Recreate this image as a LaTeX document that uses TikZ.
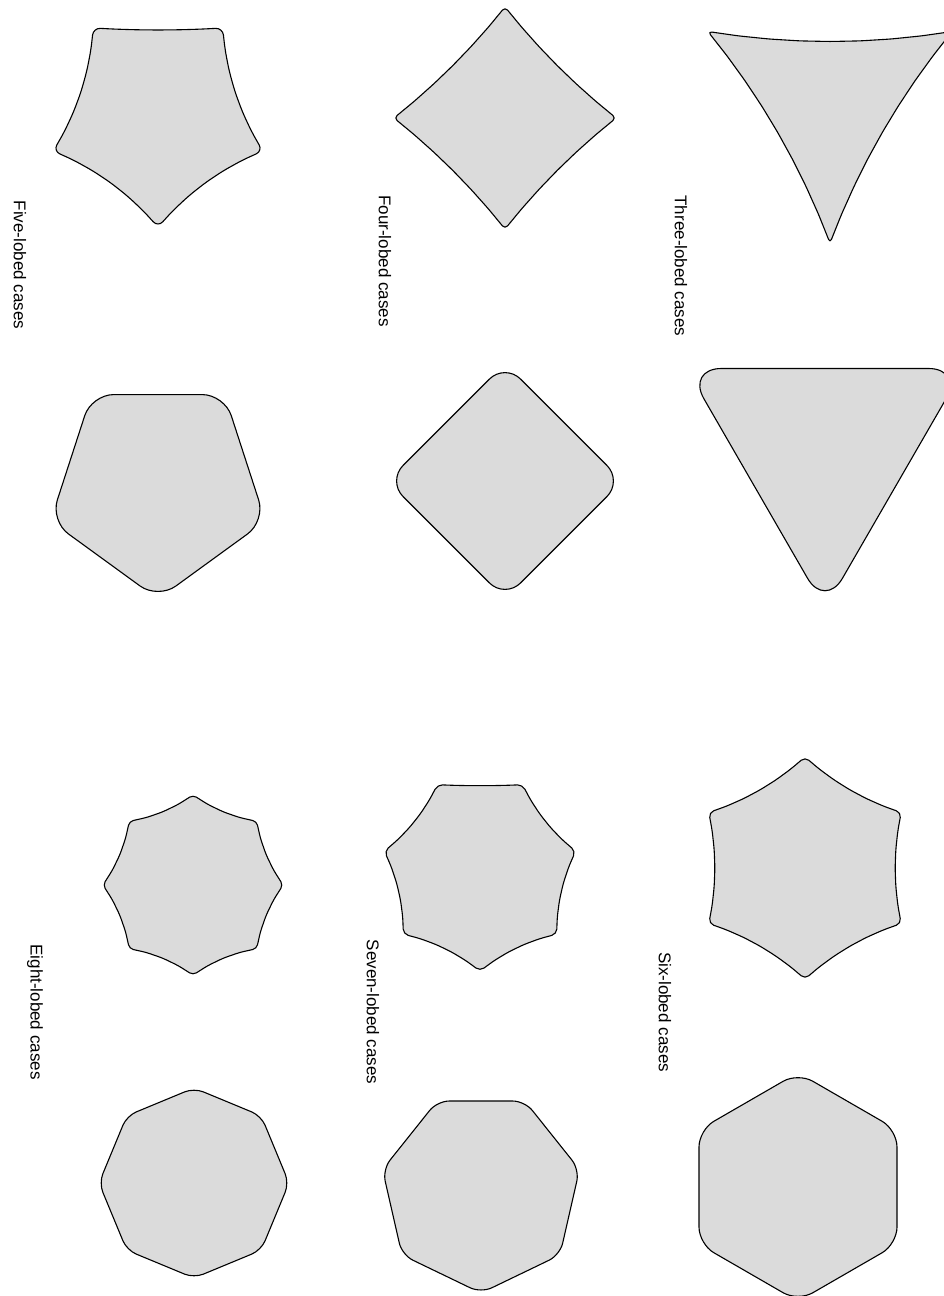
\documentclass[tikz,border=0pt]{standalone}
\usepackage{fontspec}
\setmainfont{Liberation Sans}
% #1 cx, #2 cy, #3 vertex radius, #4 lobes, #5 inward sag of a side,
% #6 angle of first vertex, #7 corner inset, #8 segments per side,
% #9 inward sag of the top side
\newcommand{\lobedpoly}[9]{%
  \def\Lcx{#1}\def\Lcy{#2}\def\LR{#3}\def\Ln{#4}\def\Lphi{#6}\def\Ls{#8}%
  \def\Lsag{#5}\def\Ltop{#9}%
  \pgfmathsetmacro\Lm{#3*cos(180/#4)}%
  \pgfmathtruncatemacro\Lti{(#4-1)/2}%
  \pgfmathtruncatemacro\Ltot{#4*#8-1}%
  \draw[lobe, rounded corners=#7pt] ({Lx(0)},{Ly(0)})
    \foreach \j in {1,...,\Ltot} { -- ({Lx(\j)},{Ly(\j)}) } -- cycle;
}
\begin{document}
\begin{tikzpicture}[x=1pt, y=-1pt,
  declare function={
    Li(\k)=floor((\k+0.5)/\Ls);
    Lt(\k)=(\k-\Ls*Li(\k))/\Ls;
    La(\k)=\Lphi+360*Li(\k)/\Ln;
    Lq(\k)=\Lm-2*(\Lsag+(\Ltop-\Lsag)*(Li(\k)==\Lti));
    Lx(\k)=\Lcx+(1-Lt(\k))^2*\LR*cos(La(\k))+2*Lt(\k)*(1-Lt(\k))*Lq(\k)*cos(La(\k)+180/\Ln)+Lt(\k)^2*\LR*cos(La(\k)+360/\Ln);
    Ly(\k)=\Lcy+(1-Lt(\k))^2*\LR*sin(La(\k))+2*Lt(\k)*(1-Lt(\k))*Lq(\k)*sin(La(\k)+180/\Ln)+Lt(\k)^2*\LR*sin(La(\k)+360/\Ln);
  },
  lobe/.style={draw=black, fill=black!14, line width=1.1pt, line join=round},
  lbl/.style={rotate=-90, font=\fontsize{17}{20}\selectfont, inner sep=0pt}]
\useasboundingbox (0,0) rectangle (943,1296);
% three-lobed
\lobedpoly{830}{102}{141}{3}{10}{90}{4}{8}{10}
\lobedpoly{825}{448.5}{160}{3}{0}{90}{35}{1}{0}
% four-lobed
\lobedpoly{505}{118}{111}{4}{4.5}{0}{4}{6}{4.5}
\lobedpoly{505}{481}{117.5}{4}{0}{0}{22}{1}{0}
% five-lobed
\lobedpoly{158}{117}{110}{5}{8}{90}{7}{6}{2}
\lobedpoly{158}{486}{113}{5}{0}{90}{22}{1}{0}
% six-lobed
\lobedpoly{805}{868}{111}{6}{6}{90}{5}{6}{6}
\lobedpoly{798}{1187}{114.3}{6}{0}{90}{17}{1}{0}
% seven-lobed
\lobedpoly{480}{873}{98}{7}{5}{90}{5}{5}{1}
\lobedpoly{481}{1192}{101}{7}{0}{90}{12}{1}{0}
% eight-lobed
\lobedpoly{193}{885}{90}{8}{4}{90}{4}{4}{4}
\lobedpoly{194}{1183}{95}{8}{0}{90}{10}{1}{0}
% labels
\node[lbl] (l3) at (681,266) {Three-lobed cases};
\node[lbl] (l4) at (385,261) {Four-lobed cases};
\node[lbl] (l5) at (20,265) {Five-lobed cases};
\node[lbl] (l6) at (665,1012) {Six-lobed cases};
\node[lbl] (l7) at (373,1012) {Seven-lobed cases};
\node[lbl] (l8) at (35,1012) {Eight-lobed cases};
\end{tikzpicture}
\end{document}
